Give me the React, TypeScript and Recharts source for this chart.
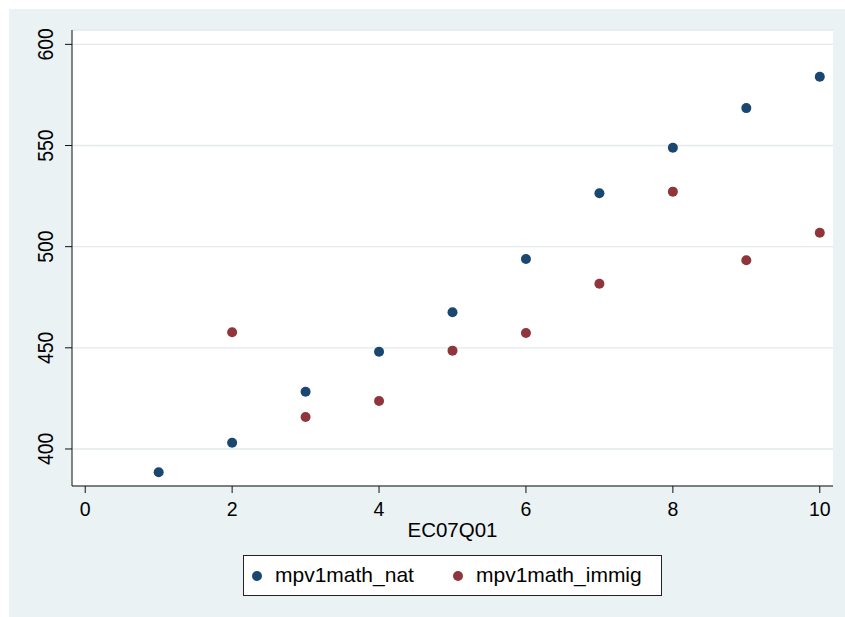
import { ScatterChart, Scatter, XAxis, YAxis, CartesianGrid, Legend } from 'recharts'

const FONT = '"Liberation Sans", Arial, Helvetica, sans-serif'

// EC07Q01 categories and mean math scores
const natX = [1, 2, 3, 4, 5, 6, 7, 8, 9, 10]
const natY = [388.5, 403.1, 428.3, 448.1, 467.6, 493.9, 526.4, 548.9, 568.5, 584.0]
const immigX = [2, 3, 4, 5, 6, 7, 8, 9, 10]
const immigY = [457.7, 415.8, 423.7, 448.6, 457.3, 481.7, 527.2, 493.3, 506.9]

const xTicks = [0, 2, 4, 6, 8, 10]
const yTicks = [400, 450, 500, 550, 600]

const NAT_COLOR = '#1a476f'
const IMMIG_COLOR = '#90353b'
const BG = '#eaf2f3'

const natData = natX.map((x, i) => ({ x, y: natY[i] }))
const immigData = immigX.map((x, i) => ({ x, y: immigY[i] }))

function Dot(color: string) {
  return (props: any) => <circle cx={props.cx} cy={props.cy} r={5} fill={color} />
}

// rotated y labels, a bit taller than they are wide like the stata export
function YTick({ x, y, payload }: any) {
  return (
    <text
      transform={`translate(${x} ${y}) rotate(-90) scale(0.88 1)`}
      x={0}
      y={0}
      textAnchor="middle"
      fontSize={22}
      fontFamily={FONT}
      fill="#000"
    >
      {payload.value}
    </text>
  )
}

function LegendBox() {
  const item = (left: number, color: string, label: string) => (
    <>
      <span
        style={{
          position: 'absolute', left: left - 5, top: 15, width: 10, height: 10,
          borderRadius: '50%', background: color,
        }}
      />
      <span style={{ position: 'absolute', left: left + 18, top: 7, lineHeight: '24px', whiteSpace: 'nowrap' }}>
        {label}
      </span>
    </>
  )
  return (
    <div
      style={{
        position: 'relative', width: 419, height: 41, boxSizing: 'border-box',
        border: '1px solid #222', background: '#fff', fontFamily: FONT, fontSize: 21, color: '#000',
      }}
    >
      {item(13, NAT_COLOR, 'mpv1math_nat')}
      {item(214, IMMIG_COLOR, 'mpv1math_immig')}
    </div>
  )
}

export default function App() {
  return (
    <div style={{ position: 'absolute', left: 0, top: 0, width: 845, height: 617, background: '#fff' }}>
      <div style={{ position: 'absolute', left: 9, top: 9, right: 0, bottom: 0, background: BG }} />
      <div style={{ position: 'absolute', left: 0, top: 0 }}>
        <ScatterChart width={845} height={617} margin={{ top: 30, right: 12, left: 0, bottom: 71 }}>
          <CartesianGrid vertical={false} fill="#fff" stroke="#e2eaec" strokeWidth={1.3} />
          <XAxis
            type="number"
            dataKey="x"
            domain={[-0.18, 10.18]}
            ticks={xTicks}
            allowDataOverflow
            height={60}
            tickSize={7}
            tickMargin={9}
            stroke="#111"
            tick={{ fontSize: 19.5, fontFamily: FONT, fill: '#000' }}
            label={{ value: 'EC07Q01', position: 'insideBottom', offset: 9, fontSize: 20.5, fontFamily: FONT, fill: '#000' }}
          />
          <YAxis
            type="number"
            dataKey="y"
            domain={[381.7, 607.1]}
            ticks={yTicks}
            allowDataOverflow
            width={72}
            tickSize={7}
            tickMargin={12}
            stroke="#111"
            tick={<YTick />}
          />
          <Legend
            layout="horizontal"
            verticalAlign="middle"
            align="center"
            content={<LegendBox />}
            wrapperStyle={{ left: 243, top: 555, width: 419, height: 41 }}
          />
          <Scatter name="mpv1math_nat" data={natData} fill={NAT_COLOR} shape={Dot(NAT_COLOR)} isAnimationActive={false} />
          <Scatter name="mpv1math_immig" data={immigData} fill={IMMIG_COLOR} shape={Dot(IMMIG_COLOR)} isAnimationActive={false} />
        </ScatterChart>
      </div>
    </div>
  )
}
